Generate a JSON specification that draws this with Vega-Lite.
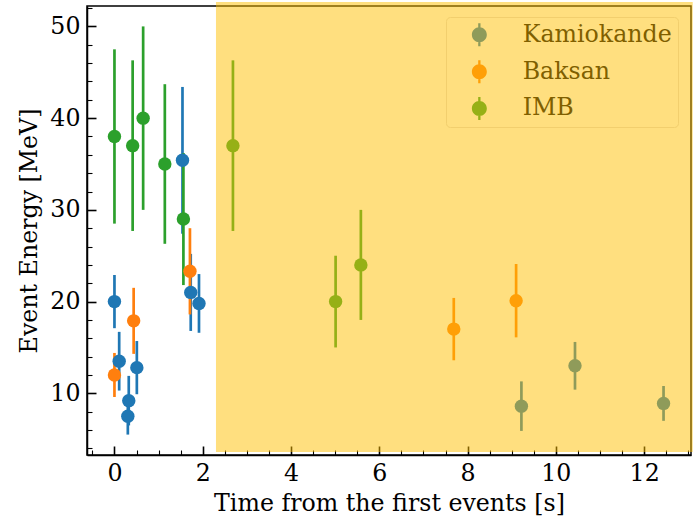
{
  "$schema": "https://vega.github.io/schema/vega-lite/v6.json",
  "width": 604,
  "height": 449,
  "autosize": {"type": "none"},
  "padding": {"left": 87, "top": 6, "right": 2, "bottom": 64},
  "background": "white",
  "datasets": {
    "events": [
      {"detector": "Kamiokande", "t": 0.0, "E": 20.0, "err": 2.9},
      {"detector": "Kamiokande", "t": 0.107, "E": 13.5, "err": 3.2},
      {"detector": "Kamiokande", "t": 0.303, "E": 7.5, "err": 2.0},
      {"detector": "Kamiokande", "t": 0.324, "E": 9.2, "err": 2.7},
      {"detector": "Kamiokande", "t": 0.507, "E": 12.8, "err": 2.9},
      {"detector": "Kamiokande", "t": 1.541, "E": 35.4, "err": 8.0},
      {"detector": "Kamiokande", "t": 1.728, "E": 21.0, "err": 4.2},
      {"detector": "Kamiokande", "t": 1.915, "E": 19.8, "err": 3.2},
      {"detector": "Kamiokande", "t": 9.219, "E": 8.6, "err": 2.7},
      {"detector": "Kamiokande", "t": 10.433, "E": 13.0, "err": 2.6},
      {"detector": "Kamiokande", "t": 12.439, "E": 8.9, "err": 1.9},
      {"detector": "Baksan", "t": 0.0, "E": 12.0, "err": 2.4},
      {"detector": "Baksan", "t": 0.435, "E": 17.9, "err": 3.6},
      {"detector": "Baksan", "t": 1.71, "E": 23.3, "err": 4.7},
      {"detector": "Baksan", "t": 7.687, "E": 17.0, "err": 3.4},
      {"detector": "Baksan", "t": 9.099, "E": 20.1, "err": 4.0},
      {"detector": "IMB", "t": 0.0, "E": 38.0, "err": 9.5},
      {"detector": "IMB", "t": 0.412, "E": 37.0, "err": 9.3},
      {"detector": "IMB", "t": 0.65, "E": 40.0, "err": 10.0},
      {"detector": "IMB", "t": 1.141, "E": 35.0, "err": 8.7},
      {"detector": "IMB", "t": 1.562, "E": 29.0, "err": 7.2},
      {"detector": "IMB", "t": 2.684, "E": 37.0, "err": 9.3},
      {"detector": "IMB", "t": 5.01, "E": 20.0, "err": 5.0},
      {"detector": "IMB", "t": 5.582, "E": 24.0, "err": 6.0}
    ],
    "window": [
      {"t0": 2.3, "t1": 13.1, "E0": 3.6, "E1": 52.65}
    ]
  },
  "layer": [
    {
      "data": {"name": "events"},
      "mark": {"type": "errorbar", "thickness": 2.7},
      "encoding": {
        "yError": {"field": "err"},
        "color": {
          "field": "detector",
          "type": "nominal",
          "scale": {"domain": ["Kamiokande", "Baksan", "IMB"], "range": ["#1f77b4", "#ff7f0e", "#2ca02c"]},
          "legend": null
        }
      }
    },
    {
      "data": {"name": "events"},
      "mark": {"type": "point", "shape": "circle", "filled": true, "opacity": 1, "size": 180},
      "encoding": {
        "color": {
          "field": "detector",
          "type": "nominal",
          "scale": {"domain": ["Kamiokande", "Baksan", "IMB"], "range": ["#1f77b4", "#ff7f0e", "#2ca02c"]},
          "legend": null
        }
      }
    },
    {
      "data": {"name": "events"},
      "mark": {"type": "point", "shape": "circle", "filled": true, "opacity": 0, "size": 10},
      "encoding": {
        "fill": {
          "field": "detector",
          "type": "nominal",
          "sort": ["Kamiokande", "Baksan", "IMB"],
          "scale": {"range": ["#8F9B5A", "#FF9F07", "#96B016"]},
          "legend": {
            "title": null,
            "orient": "none",
            "legendX": 359,
            "legendY": 11,
            "symbolOpacity": 1
          }
        }
      }
    },
    {
      "data": {"name": "window"},
      "mark": {"type": "rect", "color": "#FFBF00", "opacity": 0.5, "clip": false},
      "encoding": {
        "x": {"field": "t0", "type": "quantitative", "title": "Time from the first events [s]"},
        "x2": {"field": "t1"},
        "y": {"field": "E0", "type": "quantitative", "title": "Event Energy [MeV]"},
        "y2": {"field": "E1"}
      }
    }
  ],
  "encoding": {
    "x": {
      "field": "t",
      "type": "quantitative",
      "title": "Time from the first events [s]",
      "scale": {"domain": [-0.622, 13.061], "nice": false, "zero": false},
      "axis": {
        "values": [-0.5, 0, 0.5, 1, 1.5, 2, 2.5, 3, 3.5, 4, 4.5, 5, 5.5, 6, 6.5, 7, 7.5, 8, 8.5, 9, 9.5, 10, 10.5, 11, 11.5, 12, 12.5, 13],
        "labelExpr": "datum.value % 2 === 0 ? format(datum.value, 'd') : ''",
        "labelPadding": 15,
        "titlePadding": 3,
        "tickSize": {"condition": {"test": "datum.value % 2 === 0", "value": -9}, "value": -5},
        "tickWidth": {"condition": {"test": "datum.value % 2 === 0", "value": 1.6}, "value": 1.1}
      }
    },
    "y": {
      "field": "E",
      "type": "quantitative",
      "title": "Event Energy [MeV]",
      "scale": {"domain": [3.275, 52.225], "nice": false, "zero": false},
      "axis": {
        "values": [4, 6, 8, 10, 12, 14, 16, 18, 20, 22, 24, 26, 28, 30, 32, 34, 36, 38, 40, 42, 44, 46, 48, 50, 52],
        "labelExpr": "datum.value % 10 === 0 ? format(datum.value, 'd') : ''",
        "labelPadding": 16,
        "titlePadding": 8,
        "tickSize": {"condition": {"test": "datum.value % 10 === 0", "value": -9}, "value": -5},
        "tickWidth": {"condition": {"test": "datum.value % 10 === 0", "value": 1.6}, "value": 1.1}
      }
    }
  },
  "config": {
    "font": "DejaVu Serif",
    "view": {"stroke": "black", "strokeWidth": 1.5},
    "axis": {
      "grid": false,
      "domainColor": "black",
      "domainWidth": 1.5,
      "tickColor": "black",
      "labelColor": "black",
      "titleColor": "black",
      "labelFont": "DejaVu Serif",
      "titleFont": "DejaVu Serif",
      "labelFontSize": 23.7,
      "titleFontSize": 23.7,
      "titleFontWeight": "normal",
      "labelFlush": false,
      "labelOverlap": false
    },
    "legend": {
      "padding": 6,
      "symbolOffset": 15.5,
      "labelOffset": 31.5,
      "rowPadding": 11.8,
      "symbolType": "M-0.1,-1H0.1V1H-0.1Z M-0.65,0A0.65,0.65,0,1,1,0.65,0A0.65,0.65,0,1,1,-0.65,0Z",
      "symbolSize": 529,
      "symbolStrokeWidth": 0,
      "symbolOpacity": 1,
      "labelFont": "DejaVu Serif",
      "labelFontSize": 23.7,
      "labelColor": "#805F00",
      "fillColor": "#FFDF7F",
      "strokeColor": "#F2CF6E",
      "cornerRadius": 4
    }
  }
}
